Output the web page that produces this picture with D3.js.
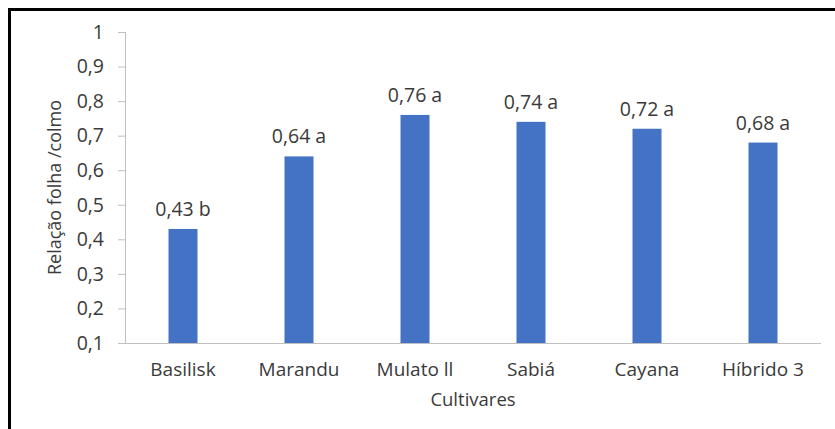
<!DOCTYPE html>
<html><head><meta charset="utf-8">
<script src="https://cdn.jsdelivr.net/npm/d3@7"></script>
<style>body{margin:0;background:#fff}svg{display:block}text{font-family:"Open Sans",sans-serif;fill:#3a3a3a}</style>
</head><body><svg id="c" width="835" height="429"></svg>
<script>
const categories = ["Basilisk","Marandu","Mulato ll","Sabiá","Cayana","Híbrido 3"];
const values = [0.43,0.64,0.76,0.74,0.72,0.68];
const letters = ["b","a","a","a","a","a"];
const yTicks = [0.1,0.2,0.3,0.4,0.5,0.6,0.7,0.8,0.9,1];
const yTitle = "Relação folha /colmo";
const xTitle = "Cultivares";

const svg = d3.select("#c");
const L=125,R=821,T=32,B=343;
const x = d3.scaleBand().domain(categories).range([L,R]).paddingInner(0.75).paddingOuter(0.375);
const y = d3.scaleLinear().domain([0.1,1]).range([B,T]);
const fmt = v => d3.format(".2~f")(v).replace(".",",");

// border
svg.append("path").attr("d","M9.5,440V9.5H845").attr("fill","none").attr("stroke","#000").attr("stroke-width",3);

const ya = svg.append("g").attr("transform",`translate(${L},0)`)
  .call(d3.axisLeft(y).tickValues(yTicks).tickSize(7).tickPadding(14).tickFormat(fmt));
ya.select(".domain").attr("stroke","#bfbfbf").attr("d",`M0.5,${T}V${B}`);
ya.selectAll(".tick line").attr("stroke","#bfbfbf");
ya.selectAll(".tick text").attr("font-size",19.5).attr("font-family","Open Sans").attr("fill","#3a3a3a");

svg.append("g").selectAll("rect").data(values).join("rect")
  .attr("x",(d,i)=>x(categories[i])).attr("width",x.bandwidth())
  .attr("y",d=>y(d)).attr("height",d=>B-y(d)).attr("fill","#4472C4");

svg.append("line").attr("x1",L).attr("x2",R).attr("y1",B+0.5).attr("y2",B+0.5).attr("stroke","#bfbfbf");

svg.append("g").selectAll("text").data(values).join("text")
  .attr("x",(d,i)=>x(categories[i])+x.bandwidth()/2).attr("y",d=>y(d)-13)
  .attr("text-anchor","middle").attr("font-size",19.5)
  .text((d,i)=>fmt(d)+" "+letters[i]);

svg.append("g").selectAll("text").data(categories).join("text")
  .attr("x",d=>x(d)+x.bandwidth()/2).attr("y",376)
  .attr("text-anchor","middle").attr("font-size",19).text(d=>d);

svg.append("text").attr("x",(L+R)/2).attr("y",406).attr("text-anchor","middle").attr("font-size",18.5).text(xTitle);
svg.append("text").attr("transform",`translate(61,${(T+B)/2}) rotate(-90)`).attr("text-anchor","middle").attr("font-size",18).text(yTitle);
</script></body></html>
